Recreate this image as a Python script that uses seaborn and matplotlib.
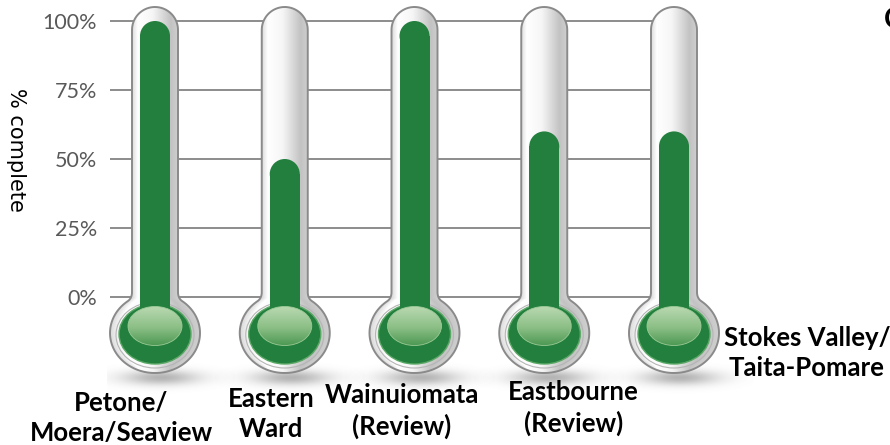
import numpy as np
import matplotlib
matplotlib.use("Agg")
import matplotlib.pyplot as plt
from matplotlib.patches import Ellipse, Rectangle, PathPatch
from matplotlib.path import Path
from matplotlib.colors import LinearSegmentedColormap
from matplotlib.ticker import PercentFormatter
import seaborn as sns
import pandas as pd

# ---- data -------------------------------------------------------------
wards = ["Petone/\nMoera/Seaview", "Eastern\nWard", "Wainuiomata\n(Review)",
         "Eastbourne\n(Review)", "Stokes Valley/\nTaita-Pomare"]
complete = [100, 50, 100, 60, 60]
pct_ticks = [0, 25, 50, 75, 100]

# ---- layout (pixels on the 890 x 445 canvas) ---------------------------
FIG_W, FIG_H, DPI = 890, 445, 100
AX_LEFT = 107          # left edge of the plotting area
X0, STEP = 155, 129.75 # centre of first thermometer, spacing
Y0, PPP = 297, 2.76    # pixel row of 0 %, pixels per percent

TUBE_R = 23            # half width of the glass tube
TUBE_TOP = 7
BULB_CY, BULB_RX, BULB_RY = 333, 45, 40
LIQ_R = 15             # half width of the green column
GBULB_CY, GBULB_RX, GBULB_RY = 334, 36, 30
HL_CY, HL_RX, HL_RY = 326, 27, 19.5

# label placement: (centre offset from thermometer in px, block centre row)
label_pos = [(-34, 418), (-14, 414), (-13, 411), (29, 408), (133, 353)]

GREEN = "#237f3e"
GRID = "#8c8c8c"
OUTLINE = "#8a8a8a"

sns.set_theme(style="white")
plt.rcParams["font.family"] = ["Lato", "DejaVu Sans"]

fig = plt.figure(figsize=(FIG_W / DPI, FIG_H / DPI), dpi=DPI)
ax = fig.add_axes([AX_LEFT / FIG_W, 0, 1 - AX_LEFT / FIG_W, 1])


def xd(i, dx):
    return i + dx / STEP


def yd(py):
    return (Y0 - py) / PPP


# ---- green columns ----------------------------------------------------
df = pd.DataFrame({"ward": wards, "complete": complete})
sns.barplot(data=df, x="ward", y="complete", order=wards, color=GREEN,
            saturation=1, width=2 * LIQ_R / STEP, ax=ax, zorder=5,
            edgecolor="none", linewidth=0)

ax.set_xlim((AX_LEFT - X0) / STEP, (FIG_W - X0) / STEP)
ax.set_ylim((Y0 - FIG_H) / PPP, Y0 / PPP)

cap_ry = LIQ_R / PPP
for bar in list(ax.patches):
    x, w, h = bar.get_x(), bar.get_width(), bar.get_height()
    bar.set_height(h - cap_ry)
    ax.add_patch(Ellipse((x + w / 2, h - cap_ry), w, 2 * cap_ry,
                         facecolor=GREEN, edgecolor="none", zorder=5))
    # stem joining the column to the bulb
    ax.add_patch(Rectangle((x, yd(GBULB_CY)), w, -yd(GBULB_CY),
                           facecolor=GREEN, edgecolor="none", zorder=5))

# ---- grid -------------------------------------------------------------
ax.hlines(pct_ticks, xd(0, 110 - X0), len(wards) - 1, color=GRID,
          lw=1.4, zorder=1)

# ---- glass thermometers -----------------------------------------------
glass = LinearSegmentedColormap.from_list(
    "glass", [(0, "#dcdcdc"), (0.12, "#ffffff"), (0.45, "#f6f6f6"),
              (0.85, "#c2c2c2"), (1, "#cfcfcf")])
highlight = LinearSegmentedColormap.from_list(
    "hl", [(0, "#b9d9b1"), (0.55, "#8cbf86"), (1, "#4f9a55")])


def outline_pts():
    pts = []
    neck = 292
    pts.append((-TUBE_R, neck))
    for t in np.linspace(np.pi, 0, 40):
        pts.append((TUBE_R * np.cos(t), TUBE_TOP + TUBE_R - TUBE_R * np.sin(t)))
    pts.append((TUBE_R, neck))
    t0 = np.radians(52)
    end = (BULB_RX * np.cos(t0), BULB_CY - BULB_RY * np.sin(t0))
    ctrl = (TUBE_R, BULB_CY - BULB_RY * np.sqrt(1 - (TUBE_R / BULB_RX) ** 2))
    for s in np.linspace(0, 1, 10)[1:]:
        bx = (1 - s) ** 2 * TUBE_R + 2 * (1 - s) * s * ctrl[0] + s ** 2 * end[0]
        by = (1 - s) ** 2 * neck + 2 * (1 - s) * s * ctrl[1] + s ** 2 * end[1]
        pts.append((bx, by))
    for t in np.linspace(t0, np.pi - t0 - 2 * np.pi, 120)[1:]:
        pts.append((BULB_RX * np.cos(t), BULB_CY - BULB_RY * np.sin(t)))
    for s in np.linspace(0, 1, 10)[1:]:
        bx = (1 - s) ** 2 * -end[0] + 2 * (1 - s) * s * -ctrl[0] + s ** 2 * -TUBE_R
        by = (1 - s) ** 2 * end[1] + 2 * (1 - s) * s * ctrl[1] + s ** 2 * neck
        pts.append((bx, by))
    return np.array(pts)


shape = outline_pts()
rows = np.arange(TUBE_TOP, BULB_CY + BULB_RY + 1)
cols = np.arange(-BULB_RX, BULB_RX + 1)
grad = np.zeros((len(rows), len(cols)))
for r, py in enumerate(rows):
    half = TUBE_R
    if abs(py - BULB_CY) < BULB_RY:
        half = max(half, BULB_RX * np.sqrt(1 - ((py - BULB_CY) / BULB_RY) ** 2))
    grad[r] = np.clip((cols + half) / (2 * half), 0, 1)

hl_grad = np.linspace(0, 1, 60)[:, None] * np.ones((1, 4))

shadow_dx = np.arange(-70, 81)
shadow_py = np.arange(355, 405)
SX, SY = np.meshgrid(shadow_dx, shadow_py)
shadow = np.zeros(SX.shape + (4,))
shadow[..., :3] = 0.35
shadow[..., 3] = 0.45 * np.exp(-((SX - 6) / 38.0) ** 2 - ((SY - 378) / 7.5) ** 2)

for i in range(len(wards)):
    # soft shadow under the bulb
    ax.imshow(shadow, extent=(xd(i, shadow_dx[0]), xd(i, shadow_dx[-1]),
                              yd(shadow_py[-1]), yd(shadow_py[0])),
              origin="upper", interpolation="bilinear", zorder=1.5,
              aspect="auto")
    verts = np.column_stack([xd(i, shape[:, 0]), yd(shape[:, 1])])
    path = Path(np.vstack([verts, verts[:1]]), closed=True)
    body = PathPatch(path, facecolor="none", edgecolor=OUTLINE, lw=1.4,
                     zorder=3)
    ax.add_patch(body)
    img = ax.imshow(grad, cmap=glass, vmin=0, vmax=1,
                    extent=(xd(i, cols[0]), xd(i, cols[-1]),
                            yd(rows[-1]), yd(rows[0])),
                    origin="upper", interpolation="bilinear", zorder=2,
                    aspect="auto")
    img.set_clip_path(body)

    # green bulb with its glossy highlight
    ax.add_patch(Ellipse((i, yd(GBULB_CY + 1)), 2 * (GBULB_RX + 3) / STEP,
                         2 * (GBULB_RY + 3) / PPP, facecolor="none",
                         edgecolor="#b5b5b5", lw=0.8, zorder=3.5))
    ax.add_patch(Ellipse((i, yd(GBULB_CY)), 2 * GBULB_RX / STEP,
                         2 * GBULB_RY / PPP, facecolor=GREEN,
                         edgecolor="#5aa865", lw=1.0, zorder=4))
    hl = Ellipse((i, yd(HL_CY)), 2 * HL_RX / STEP, 2 * HL_RY / PPP,
                 facecolor="none", edgecolor="#9ccb96", lw=0.6, zorder=6.5)
    ax.add_patch(hl)
    him = ax.imshow(hl_grad, cmap=highlight, vmin=0, vmax=1,
                    extent=(xd(i, -HL_RX), xd(i, HL_RX),
                            yd(HL_CY + HL_RY), yd(HL_CY - HL_RY)),
                    origin="upper", interpolation="bilinear", zorder=6,
                    aspect="auto")
    him.set_clip_path(hl)

ax.set_xlim((AX_LEFT - X0) / STEP, (FIG_W - X0) / STEP)
ax.set_ylim((Y0 - FIG_H) / PPP, Y0 / PPP)

# ---- axes dressing ----------------------------------------------------
sns.despine(ax=ax, left=True, bottom=True)
ax.set_xticks([])
ax.set_xlabel("")
ax.set_ylabel("")
ax.set_yticks(pct_ticks)
ax.yaxis.set_major_formatter(PercentFormatter(decimals=0))
ax.tick_params(axis="y", length=0, pad=7, labelsize=15.5, labelcolor="#595959")
for lab in ax.get_yticklabels():
    lab.set_family(["Lato", "DejaVu Sans"])

fig.text(16 / FIG_W, 1 - 150 / FIG_H, "% complete", rotation=270,
         ha="center", va="center", fontsize=15, color="black",
         family=["DejaVu Sans"])

for i, (name, (dx, py)) in enumerate(zip(wards, label_pos)):
    ax.text(xd(i, dx), yd(py), name, ha="center", va="center", fontsize=18.5,
            fontweight="bold", color="black", linespacing=1.3,
            multialignment="center")

fig.text(884 / FIG_W, 1 - 20 / FIG_H, "C", ha="left", va="center",
         fontsize=20, fontweight="bold", color="black")

fig.savefig("out.png", dpi=DPI)
